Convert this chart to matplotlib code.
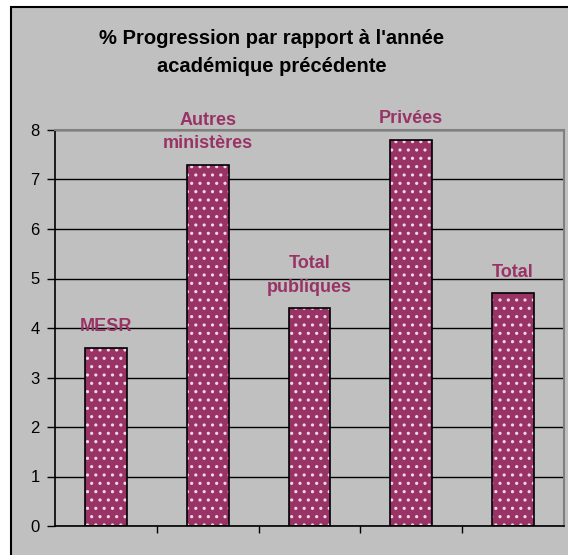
import numpy as np
import matplotlib
matplotlib.use("Agg")
import matplotlib.pyplot as plt
from matplotlib.patches import Rectangle

# data
categories = ["MESR", "Autres\nministères", "Total\npubliques", "Privées", "Total"]
values = [3.6, 7.3, 4.4, 7.8, 4.7]
yticks = [0, 1, 2, 3, 4, 5, 6, 7, 8]

BAR = "#993366"
BG = "#c0c0c0"

plt.rcParams['font.family'] = ['Liberation Sans', 'DejaVu Sans']
plt.rcParams['hatch.color'] = '#f0d8e4'
plt.rcParams['hatch.linewidth'] = 1.1

fig = plt.figure(figsize=(5.68, 5.55), dpi=100)
fig.patch.set_facecolor('white')

# grey chart area with black frame on left/top
W, H = 568.0, 555.0
fig.patches.append(Rectangle((11 / W, -0.1), 1.2, 1 - 7 / H + 0.1, transform=fig.transFigure,
                             facecolor=BG, edgecolor='black', linewidth=1.5, zorder=-1))

ax = fig.add_axes([55 / W, 1 - 526 / H, (564 - 55) / W, (526 - 130) / H])
ax.set_zorder(1)
ax.set_facecolor(BG)

x = np.arange(len(categories))
ax.bar(x, values, width=0.41, color=BAR, edgecolor='#f0d8e4', hatch='..', linewidth=0, zorder=2)
ax.bar(x, values, width=0.41, fill=False, edgecolor='black', linewidth=1.2, zorder=3)

for xi, v, lab in zip(x, values, categories):
    ax.annotate(lab, (xi, v), xytext=(0, 9), textcoords='offset points', ha='center', va='bottom',
                color=BAR, fontsize=13, fontweight='bold', linespacing=1.5)

ax.set_xlim(-0.5, len(categories) - 0.5)
ax.set_ylim(0, 8)
ax.set_yticks(yticks)
ax.set_yticklabels([str(t) for t in yticks], fontsize=12)
ax.set_xticks(np.arange(0.5, len(categories) - 0.5))
ax.set_xticklabels([])
ax.tick_params(axis='y', direction='out', length=6, width=1, pad=5)
ax.tick_params(axis='x', direction='out', length=5, width=1)
ax.grid(axis='y', color='black', linewidth=1, zorder=1)
ax.set_axisbelow(True)

for s in ['top', 'right']:
    ax.spines[s].set_color('#808080')
    ax.spines[s].set_linewidth(1.5)
for s in ['left', 'bottom']:
    ax.spines[s].set_color('black')
    ax.spines[s].set_linewidth(1.2)

fig.text(272 / W, 1 - 52 / H, "% Progression par rapport à l'année\nacadémique précédente",
         ha='center', va='center', fontsize=14.5, fontweight='bold', linespacing=1.6)

fig.savefig("out.png", dpi=100)
